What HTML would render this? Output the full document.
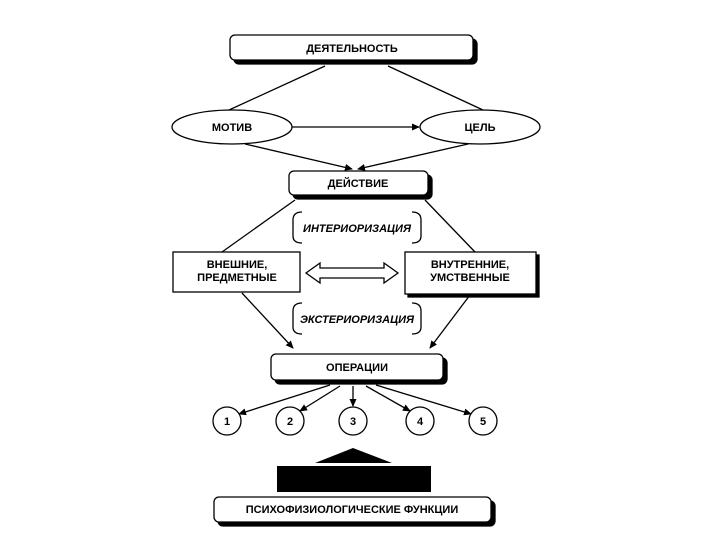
<!DOCTYPE html><html><head><meta charset="utf-8"><style>body{margin:0;background:#fff}svg{display:block}text{font-family:"Liberation Sans",sans-serif;font-weight:bold;font-size:11px;fill:#000}</style></head><body>
<svg width="720" height="540" viewBox="0 0 720 540">
<defs><marker id="a" markerWidth="8" markerHeight="8" refX="7" refY="4" orient="auto" markerUnits="userSpaceOnUse"><path d="M0,0.5 L8,4 L0,7.5 Z" fill="#000"/></marker></defs>
<g stroke="#000" stroke-width="1.3" fill="none">
<!-- top box -->
<rect x="234" y="39" width="243" height="25" rx="5" fill="#000"/>
<rect x="230" y="35" width="243" height="25" rx="5" fill="#fff"/>
<line x1="325" y1="66" x2="229" y2="110"/><line x1="388" y1="66" x2="483" y2="110"/>
<ellipse cx="232" cy="127" rx="60" ry="17" fill="#fff"/>
<ellipse cx="480" cy="127" rx="60" ry="17" fill="#fff"/>
<line x1="292" y1="127" x2="419" y2="127" marker-end="url(#a)"/>
<line x1="245" y1="144" x2="352" y2="169" marker-end="url(#a)"/>
<line x1="468" y1="144" x2="358" y2="169" marker-end="url(#a)"/>
<rect x="293" y="175" width="139" height="24" rx="5" fill="#000"/>
<rect x="289" y="171" width="139" height="24" rx="5" fill="#fff"/>
<line x1="295" y1="200" x2="222" y2="252"/><line x1="425" y1="200" x2="475" y2="252"/>
<path d="M302,212 Q293,212 293,220 L293,236 Q293,243 302,243"/>
<path d="M412,212 Q421,212 421,220 L421,236 Q421,243 412,243"/>
<rect x="173" y="252" width="127" height="40" fill="#fff"/>
<rect x="408" y="255" width="131" height="42" fill="#000"/>
<rect x="405" y="252" width="131" height="42" fill="#fff"/>
<path d="M306,273 L320,263 L320,268 L384,268 L384,263 L398,273 L384,283 L384,278 L320,278 L320,283 Z" fill="#fff"/>
<line x1="242" y1="293" x2="293" y2="348" marker-end="url(#a)"/>
<line x1="470" y1="295" x2="430" y2="348" marker-end="url(#a)"/>
<path d="M302,303 Q293,303 293,311 L293,327 Q293,334 302,334"/>
<path d="M412,303 Q421,303 421,311 L421,327 Q421,334 412,334"/>
<rect x="275" y="358" width="172" height="26" rx="5" fill="#000"/>
<rect x="271" y="354" width="172" height="26" rx="5" fill="#fff"/>
<line x1="330" y1="385" x2="239" y2="414" marker-end="url(#a)"/>
<line x1="340" y1="386" x2="300" y2="411" marker-end="url(#a)"/>
<line x1="353" y1="386" x2="353" y2="406" marker-end="url(#a)"/>
<line x1="366" y1="386" x2="410" y2="411" marker-end="url(#a)"/>
<line x1="376" y1="385" x2="471" y2="414" marker-end="url(#a)"/>
<circle cx="227" cy="421" r="14" fill="#fff"/><circle cx="290" cy="421" r="14" fill="#fff"/><circle cx="353" cy="421" r="14" fill="#fff"/><circle cx="420" cy="421" r="14" fill="#fff"/><circle cx="483" cy="421" r="14" fill="#fff"/>
<path d="M353,448 L392,463 L315,463 Z" fill="#000" stroke="none"/>
<rect x="277" y="466" width="154" height="26" fill="#000" stroke="none"/>
<rect x="218" y="501" width="277" height="25" rx="5" fill="#000"/>
<rect x="214" y="497" width="277" height="25" rx="5" fill="#fff"/>
</g>
<g text-anchor="middle">
<text x="352" y="52">ДЕЯТЕЛЬНОСТЬ</text>
<text x="232" y="131">МОТИВ</text>
<text x="480" y="131">ЦЕЛЬ</text>
<text x="358" y="187">ДЕЙСТВИЕ</text>
<text x="357" y="232" font-style="italic" font-size="10.5">ИНТЕРИОРИЗАЦИЯ</text>
<text x="237" y="268" font-size="10.5">ВНЕШНИЕ,</text>
<text x="237" y="281" font-size="10.5">ПРЕДМЕТНЫЕ</text>
<text x="470" y="268" font-size="10.5">ВНУТРЕННИЕ,</text>
<text x="470" y="281" font-size="10.5">УМСТВЕННЫЕ</text>
<text x="357" y="323" font-style="italic" font-size="10.5">ЭКСТЕРИОРИЗАЦИЯ</text>
<text x="357" y="371">ОПЕРАЦИИ</text>
<text x="227" y="425" font-size="12">1</text><text x="290" y="425" font-size="12">2</text><text x="353" y="425" font-size="12">3</text><text x="420" y="425" font-size="12">4</text><text x="483" y="425" font-size="12">5</text>
<text x="352" y="513" font-weight="normal" font-size="10">ПСИХОФИЗИОЛОГИЧЕСКИЕ ФУНКЦИИ</text>
</g>
</svg></body></html>
